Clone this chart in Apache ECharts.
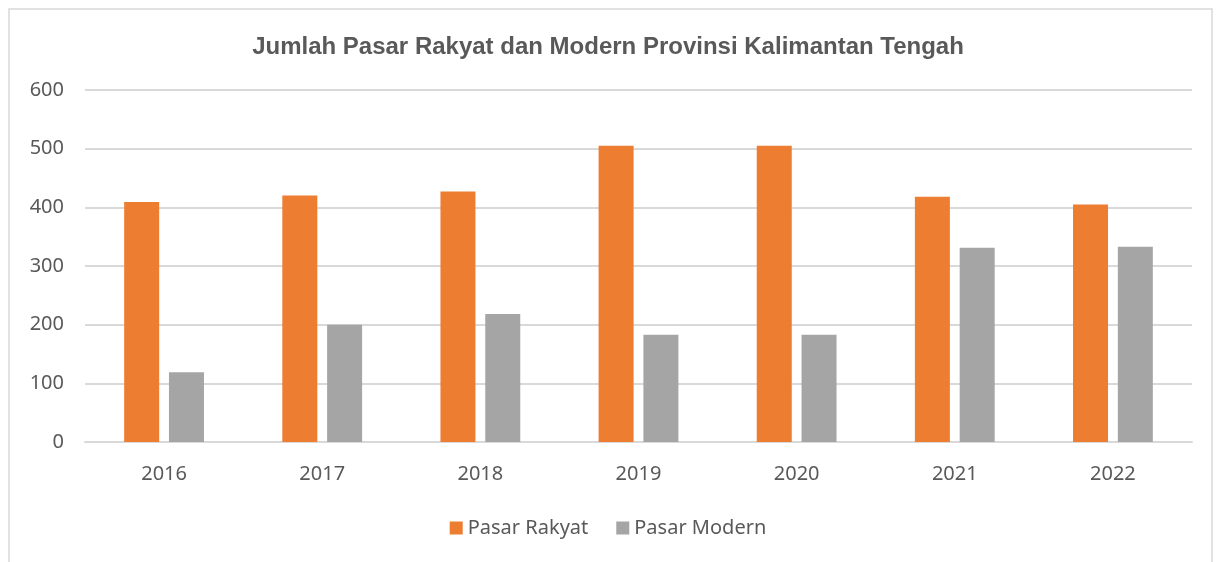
<!DOCTYPE html>
<html>
<head>
    <meta charset="utf-8">
    <script src="https://cdn.jsdelivr.net/npm/echarts@6/dist/echarts.min.js"></script>
    <style>
        html, body { margin: 0; padding: 0; background: #fff; }
    </style>
</head>
<body>
<div id="main" style="width: 1216px; height: 562px;"></div>

<script type="text/javascript">
    // data
    var years = ['2016', '2017', '2018', '2019', '2020', '2021', '2022'];
    var pasarRakyat = [409, 420, 427, 505, 505, 418, 405];
    var pasarModern = [119, 200, 218, 183, 183, 331, 333];
    var yTicks = { min: 0, max: 600, step: 100 };

    var myChart = echarts.init(document.getElementById('main'));
    var textColor = '#595959';
    var lineColor = '#d9d9d9';

    myChart.setOption({
        animation: false,
        backgroundColor: '#fff',
        graphic: [{
            type: 'rect',
            shape: { x: 9, y: 9, width: 1203, height: 570 },
            style: { fill: 'none', stroke: '#d9d9d9', lineWidth: 1.5 },
            silent: true
        }],
        title: {
            text: 'Jumlah Pasar Rakyat dan Modern Provinsi Kalimantan Tengah',
            left: 'center',
            top: 30,
            textStyle: {
                fontFamily: 'Liberation Sans',
                fontWeight: 'bold',
                fontSize: 24,
                color: textColor
            }
        },
        legend: {
            bottom: 19,
            left: 'center',
            itemWidth: 13,
            itemHeight: 13,
            itemGap: 28,
            icon: 'rect',
            textStyle: { fontFamily: 'Noto Sans', fontSize: 20, color: textColor }
        },
        grid: { left: 85, right: 24, top: 90, bottom: 120 },
        xAxis: {
            type: 'category',
            data: years,
            axisLine: { lineStyle: { color: lineColor, width: 2 } },
            axisTick: { show: false },
            axisLabel: { fontFamily: 'Noto Sans', fontSize: 20, color: textColor, margin: 22 }
        },
        yAxis: {
            type: 'value',
            min: yTicks.min,
            max: yTicks.max,
            interval: yTicks.step,
            axisLine: { show: false },
            axisTick: { show: false },
            splitLine: { lineStyle: { color: lineColor, width: 2 } },
            axisLabel: { fontFamily: 'Noto Sans', fontSize: 20, color: textColor, margin: 21 }
        },
        series: [{
            name: 'Pasar Rakyat',
            type: 'bar',
            data: pasarRakyat,
            barWidth: 35,
            barGap: '28%',
            itemStyle: { color: '#ED7D31' }
        }, {
            name: 'Pasar Modern',
            type: 'bar',
            data: pasarModern,
            barWidth: 35,
            barGap: '28%',
            itemStyle: { color: '#A5A5A5' }
        }]
    });
</script>
</body>
</html>
